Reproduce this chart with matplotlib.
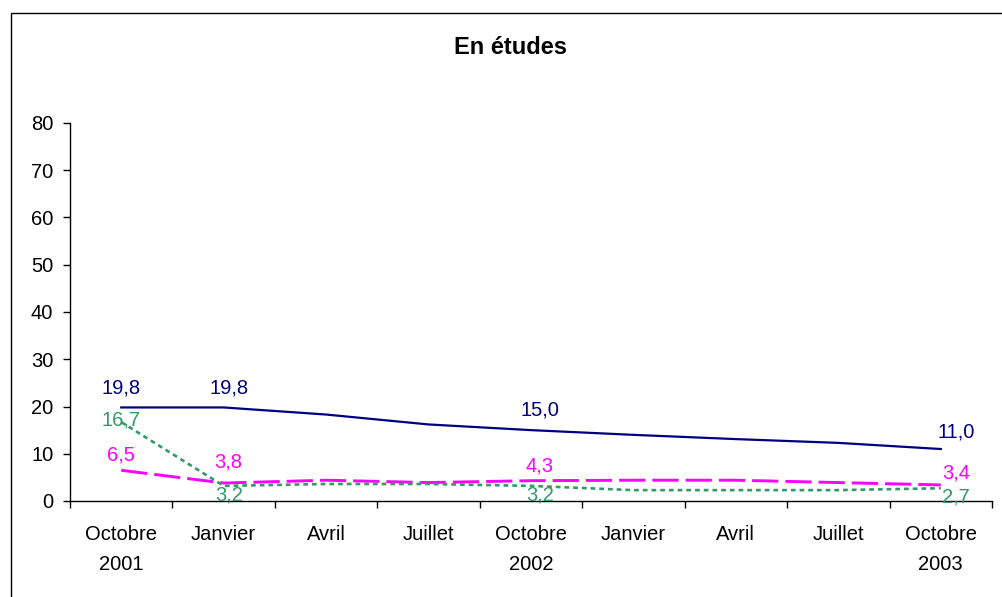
import matplotlib
matplotlib.use("Agg")
import matplotlib.pyplot as plt
from matplotlib.patches import Rectangle

plt.rcParams['font.family'] = ['Liberation Sans', 'DejaVu Sans']

# categories on the x axis
months = ['Octobre\n2001', 'Janvier', 'Avril', 'Juillet', 'Octobre\n2002',
          'Janvier', 'Avril', 'Juillet', 'Octobre\n2003']

# series values
serie_bleue = [19.8, 19.8, 18.3, 16.2, 15.0, 14.0, 13.1, 12.3, 11.0]
serie_rose = [6.5, 3.8, 4.4, 3.9, 4.3, 4.4, 4.4, 3.9, 3.4]
serie_verte = [16.7, 3.2, 3.6, 3.6, 3.2, 2.3, 2.3, 2.3, 2.7]

# which points carry a value label
labelled = [0, 1, 4, 8]
y_ticks = [0, 10, 20, 30, 40, 50, 60, 70, 80]

BLEU = '#000080'
ROSE = '#FF00FF'
VERT = '#339966'

fig = plt.figure(figsize=(10.02, 5.97), dpi=100)
ax = fig.add_axes([70 / 1002, 1 - 501 / 597, 922 / 1002, 378 / 597])

x = list(range(len(months)))
ax.plot(x, serie_bleue, color=BLEU, lw=1.6, solid_joinstyle='round')
ax.plot(x, serie_rose, color=ROSE, lw=2.1, dashes=(9, 2.4))
ax.plot(x, serie_verte, color=VERT, lw=1.9, dashes=(1.8, 1.5))

px = 0.72  # points per pixel at 100 dpi
dx = {0: 0, 1: 5, 4: 9, 8: 15}

def put_labels(values, color, dy):
    for k, i in enumerate(labelled):
        ax.annotate(f"{values[i]:.1f}".replace('.', ','), (x[i], values[i]),
                    xytext=(dx[i] * px, dy[k] * px), textcoords='offset points',
                    ha='center', va='center', color=color, fontsize=14.5)

put_labels(serie_bleue, BLEU, [19, 19, 20, 17])
put_labels(serie_rose, ROSE, [15, 21, 15, 12])
put_labels(serie_verte, VERT, [2, -9, -9, -9])

ax.set_xlim(-0.5, len(months) - 0.5)
ax.set_ylim(0, 80)
ax.set_yticks(y_ticks)
ax.set_xticks([i - 0.5 for i in range(len(months) + 1)])
ax.set_xticklabels([])
ax.set_xticks(x, minor=True)
ax.set_xticklabels(months, minor=True, linespacing=1.75)
ax.tick_params(axis='x', which='minor', length=0, pad=17, labelsize=14.5)
ax.tick_params(axis='x', which='major', length=5, width=1, direction='out')
ax.tick_params(axis='y', length=5, width=1, direction='out', labelsize=14.5, pad=7)

for s in ['top', 'right']:
    ax.spines[s].set_visible(False)
for s in ['left', 'bottom']:
    ax.spines[s].set_linewidth(1)
    ax.spines[s].set_color('black')

fig.text(510 / 1002, 1 - 47 / 597, 'En études', ha='center', va='center',
         fontsize=17, fontweight='bold')

fig.patches.append(Rectangle((10.5 / 1002, -0.1), 1.1, 1.1 - 12.5 / 597,
                             transform=fig.transFigure, fill=False,
                             edgecolor='black', lw=1))

fig.savefig('out.png', dpi=100)
